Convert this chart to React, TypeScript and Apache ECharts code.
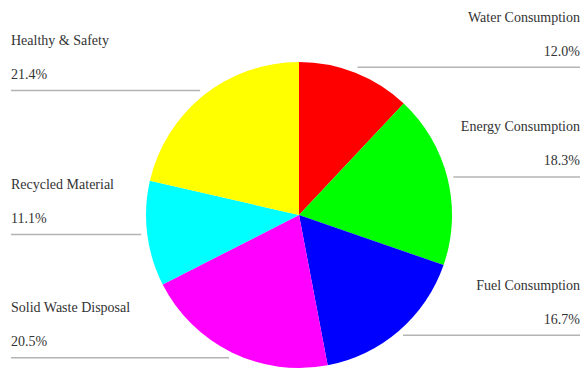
import React, { useEffect, useRef } from "react";
import * as echarts from "echarts";

const categories = [
  "Water Consumption",
  "Energy Consumption",
  "Fuel Consumption",
  "Solid Waste Disposal",
  "Recycled Material",
  "Healthy & Safety",
];
const values = [12.0, 18.3, 16.7, 20.5, 11.1, 21.4];
const colors = ["#ff0000", "#00ff00", "#0000ff", "#ff00ff", "#00ffff", "#ffff00"];

const W = 586;
const H = 376;
const CX = 299;
const CY = 215;
const R = 153;
const LEN = 6;
const FONT = "Times New Roman";

export default function App() {
  const ref = useRef<HTMLDivElement>(null);
  useEffect(() => {
    if (!ref.current) return;
    const chart = echarts.init(ref.current, null, { renderer: "svg" });
    chart.setOption({
      animation: false,
      backgroundColor: "#ffffff",
      textStyle: { fontFamily: FONT },
      series: [
        {
          type: "pie",
          center: [CX, CY],
          radius: R,
          startAngle: 90,
          clockwise: true,
          percentPrecision: 1,
          emphasis: { disabled: true },
          data: categories.map((name, i) => ({
            name,
            value: values[i],
            itemStyle: { color: colors[i] },
          })),
          label: {
            show: true,
            position: "outer",
            alignTo: "edge",
            edgeDistance: 8,
            overflow: "none",
            formatter: (p: any) => `{n|${p.name}}\n{p|${Number(p.percent).toFixed(1)}%}`,
            fontFamily: FONT,
            fontSize: 14,
            color: "#333",
            rich: {
              n: { fontFamily: FONT, fontSize: 14, lineHeight: 34, color: "#333" },
              p: { fontFamily: FONT, fontSize: 14, lineHeight: 34, color: "#333" },
            },
          },
          labelLine: {
            show: true,
            length: LEN,
            length2: 0,
            lineStyle: { color: "#b4b4b4", width: 1.5 },
          },
          labelLayout: (params: any) => {
            const pts = params.labelLinePoints;
            if (!pts) return {};
            const p0 = pts[0];
            const dx = (p0[0] - CX) / R;
            const dy = (p0[1] - CY) / R;
            const y = p0[1] + dy * LEN;
            const xs = p0[0] + dx * LEN;
            const isLeft = dx < 0;
            const xe = isLeft ? 11 : W - 6;
            return {
              x: xe,
              y: y + 1,
              align: isLeft ? "left" : "right",
              verticalAlign: "bottom",
              labelLinePoints: [
                [xs, y],
                [xs, y],
                [xe, y],
              ],
            };
          },
        },
      ],
    });
    return () => chart.dispose();
  }, []);
  return (
    <div
      ref={ref}
      style={{ position: "fixed", left: 0, top: 0, width: W, height: H }}
    />
  );
}
